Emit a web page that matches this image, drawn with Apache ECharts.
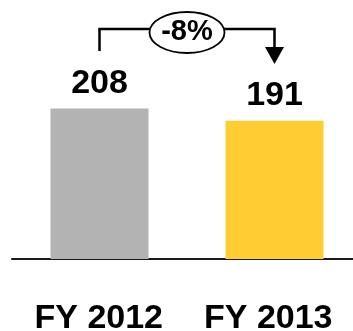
<!DOCTYPE html>
<html>
<head>
<meta charset="utf-8">
<script src="https://cdn.jsdelivr.net/npm/echarts@6/dist/echarts.min.js"></script>
<style>
  html, body { margin: 0; padding: 0; background: #fff; }
  #chart { width: 353px; height: 331px; }
</style>
</head>
<body>
<div id="chart"></div>
<script>
// Fiscal years and totals
const categories = ['FY 2012', 'FY 2013'];
const values = [208, 191];
const barColors = ['#b3b3b3', '#ffcc33'];

// Year-over-year change, shown in the bubble between the bars
const changePct = Math.round((values[1] - values[0]) / values[0] * 100);
const changeText = (changePct > 0 ? '+' : '') + changePct + '%';

const FONT = '"Liberation Sans", Arial, sans-serif';

const chart = echarts.init(document.getElementById('chart'));

chart.setOption({
  animation: false,
  grid: [
    // bars and baseline (runs past the right edge)
    { left: 12, width: 350, top: 42, bottom: 72, outerBoundsMode: 'none', containLabel: false },
    // year labels under the baseline
    { left: 14, right: 0, top: 42, bottom: 72, outerBoundsMode: 'none', containLabel: false }
  ],
  xAxis: [
    {
      type: 'category',
      gridIndex: 0,
      data: categories,
      axisLine: { show: true, lineStyle: { color: '#1a1a1a', width: 2 } },
      axisTick: { show: false },
      axisLabel: { show: false }
    },
    {
      type: 'category',
      gridIndex: 1,
      data: categories,
      axisLine: { show: false },
      axisTick: { show: false },
      axisLabel: {
        margin: 43,
        interval: 0,
        hideOverlap: false,
        color: '#000',
        fontFamily: FONT,
        fontSize: 34,
        fontWeight: 'bold'
      }
    }
  ],
  yAxis: [
    { type: 'value', gridIndex: 0, min: 0, max: 300, show: false },
    { type: 'value', gridIndex: 1, min: 0, max: 300, show: false }
  ],
  series: [{
    type: 'bar',
    xAxisIndex: 0,
    yAxisIndex: 0,
    barWidth: 98,
    data: values.map((v, i) => ({ value: v, itemStyle: { color: barColors[i] } })),
    label: {
      show: true,
      position: 'top',
      distance: 8,
      color: '#000',
      fontFamily: FONT,
      fontSize: 34,
      fontWeight: 'bold'
    }
  }]
});

// Change bracket: line up from the first bar, across through the bubble,
// then down with an arrowhead over the second bar.
const p0 = chart.convertToPixel({ seriesIndex: 0 }, [0, values[0]]);
const p1 = chart.convertToPixel({ seriesIndex: 0 }, [1, values[1]]);
const x0 = p0[0];
const x1 = p1[0];
const yTop = 29;
const yLeftEnd = 51;
const arrowTop = 47;
const arrowTip = 64;
const midX = (x0 + x1) / 2;

chart.setOption({
  graphic: [
    {
      type: 'polyline',
      shape: { points: [[x0, yLeftEnd], [x0, yTop], [x1, yTop], [x1, arrowTop + 1]] },
      style: { stroke: '#000', lineWidth: 2.5, fill: null }
    },
    {
      type: 'polygon',
      shape: { points: [[x1 - 9.5, arrowTop], [x1 + 9.5, arrowTop], [x1, arrowTip]] },
      style: { fill: '#000' }
    },
    {
      type: 'ellipse',
      shape: { cx: midX, cy: 32.5, rx: 37.5, ry: 20.5 },
      style: { fill: '#fff', stroke: '#000', lineWidth: 1.8 },
      z: 10
    },
    {
      type: 'text',
      x: midX,
      y: 32,
      z: 11,
      style: {
        text: changeText,
        x: 0, y: 0,
        align: 'center',
        verticalAlign: 'middle',
        fill: '#000',
        font: 'bold 29px ' + FONT
      }
    }
  ]
});
</script>
</body>
</html>
